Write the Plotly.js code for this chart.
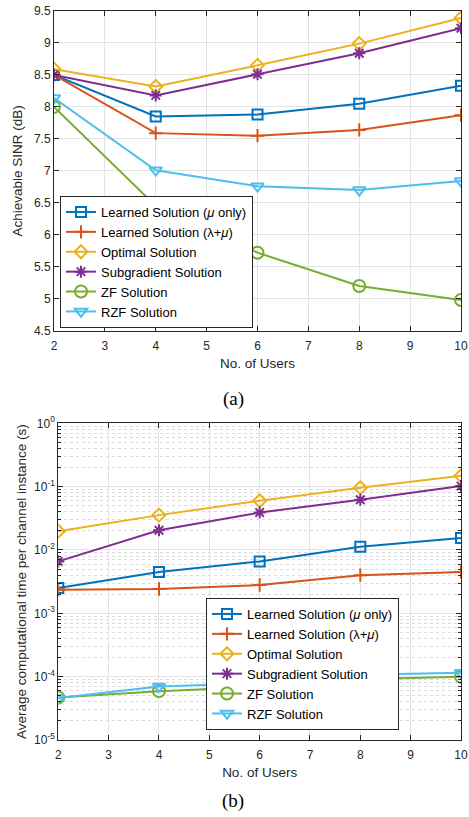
<!DOCTYPE html>
<html>
<head>
<meta charset="utf-8">
<script src="https://cdn.plot.ly/plotly-3.0.1.min.js"></script>
<style>html,body{margin:0;padding:0;background:#fff;}#plot{width:469px;height:817px;}</style>
</head>
<body>
<div id="plot"></div>
<script>
// ---- data ----
const users = [2, 4, 6, 8, 10];
const seriesNames = [
  'Learned Solution (<i>μ</i> only)',
  'Learned Solution (λ+<i>μ</i>)',
  'Optimal Solution',
  'Subgradient Solution',
  'ZF Solution',
  'RZF Solution'
];
// (a) Achievable SINR (dB)
const sinrLearnedMu = [8.50, 7.85, 7.88, 8.05, 8.33];
const sinrLearnedLM = [8.50, 7.59, 7.55, 7.64, 7.87];
const sinrOptimal   = [8.59, 8.32, 8.65, 8.99, 9.39];
const sinrSubgrad   = [8.50, 8.18, 8.51, 8.84, 9.23];
const sinrZF        = [8.00, 6.45, 5.72, 5.20, 4.98];
const sinrRZF       = [8.14, 7.01, 6.76, 6.70, 6.84];
// (b) Average computational time (s)
const timeLearnedMu = [0.0025, 0.0045, 0.0066, 0.0112, 0.0155];
const timeLearnedLM = [0.00235, 0.00242, 0.0028, 0.0040, 0.0045];
const timeOptimal   = [0.0198, 0.0355, 0.060, 0.096, 0.148];
const timeSubgrad   = [0.0066, 0.0205, 0.039, 0.062, 0.102];
const timeZF        = [4.7e-5, 5.9e-5, 6.9e-5, 9.1e-5, 1.0e-4];
const timeRZF       = [4.6e-5, 7.0e-5, 7.9e-5, 1.07e-4, 1.15e-4];
// tick labels
const xTicks = [2, 3, 4, 5, 6, 7, 8, 9, 10];
const sinrTicks = [4.5, 5, 5.5, 6, 6.5, 7, 7.5, 8, 8.5, 9, 9.5];
const timeTickVals = [1e-5, 1e-4, 1e-3, 1e-2, 1e-1, 1];
const timeTickText = ['10<sup>-5</sup>', '10<sup>-4</sup>', '10<sup>-3</sup>', '10<sup>-2</sup>', '10<sup>-1</sup>', '10<sup>0</sup>'];

// ---- styles ----
const colors = ['#0072BD', '#D95319', '#EDB120', '#7E2F8E', '#77AC30', '#4DBEEE'];
const symbols = ['square-open', 'cross-thin-open', 'diamond-open', 'asterisk-open', 'circle-open', 'triangle-down-open'];
const msizes = [10, 9.5, 10, 10, 12, 11];
const FONT = 'Liberation Sans, Arial, sans-serif';

const sinrData = [sinrLearnedMu, sinrLearnedLM, sinrOptimal, sinrSubgrad, sinrZF, sinrRZF];
const timeData = [timeLearnedMu, timeLearnedLM, timeOptimal, timeSubgrad, timeZF, timeRZF];

const traces = [];
sinrData.forEach((ys, i) => {
  traces.push({
    x: users, y: ys, type: 'scatter', mode: 'lines+markers', name: seriesNames[i],
    xaxis: 'x', yaxis: 'y', legend: 'legend',
    line: {color: colors[i], width: 2},
    marker: {symbol: symbols[i], size: msizes[i], color: colors[i], line: {color: colors[i], width: 2}}
  });
});
timeData.forEach((ys, i) => {
  traces.push({
    x: users, y: ys, type: 'scatter', mode: 'lines+markers', name: seriesNames[i],
    xaxis: 'x2', yaxis: 'y2', legend: 'legend2',
    line: {color: colors[i], width: 2},
    marker: {symbol: symbols[i], size: msizes[i], color: colors[i], line: {color: colors[i], width: 2}}
  });
});

const W = 469, H = 817;
const axisCommon = {
  showline: true, linecolor: '#262626', linewidth: 1, mirror: 'ticks',
  ticks: 'inside', ticklen: 5, tickcolor: '#262626', tickwidth: 1,
  showgrid: true, gridcolor: '#e3e3e3', gridwidth: 1, zeroline: false,
  tickfont: {family: FONT, size: 12, color: '#262626'}
};
const titleFont = {family: FONT, size: 13.5, color: '#262626'};
const capFont = {family: 'Liberation Serif, Times New Roman, serif', size: 19, color: '#000'};

const layout = {
  width: W, height: H,
  margin: {l: 0, r: 0, t: 0, b: 0},
  paper_bgcolor: '#fff', plot_bgcolor: '#fff',
  font: {family: FONT, color: '#262626'},
  xaxis: Object.assign({}, axisCommon, {
    domain: [54 / W, 461 / W], anchor: 'y', range: [2, 10],
    tickvals: xTicks, ticklabelstandoff: 4,
    title: {text: 'No. of Users', font: titleFont, standoff: 6}
  }),
  yaxis: Object.assign({}, axisCommon, {
    domain: [1 - 330.7 / H, 1 - 11 / H], anchor: 'x', range: [4.5, 9.5],
    tickvals: sinrTicks,
    title: {text: 'Achievable SINR (dB)', font: titleFont, standoff: 8}
  }),
  xaxis2: Object.assign({}, axisCommon, {
    domain: [58.3 / W, 461 / W], anchor: 'y2', range: [2, 10],
    tickvals: xTicks, ticklabelstandoff: 4,
    title: {text: 'No. of Users', font: titleFont, standoff: 6}
  }),
  yaxis2: Object.assign({}, axisCommon, {
    domain: [1 - 740 / H, 1 - 423.3 / H], anchor: 'x2', type: 'log', range: [-5, 0],
    tickvals: timeTickVals, ticktext: timeTickText,
    minor: {dtick: 'D1', ticks: 'inside', ticklen: 3, tickcolor: '#262626', showgrid: true, gridcolor: '#dadada', griddash: 'dot', gridwidth: 1},
    title: {text: 'Average computational time per channel instance (s)', font: titleFont, standoff: 4}
  }),
  showlegend: true,
  legend: {
    x: 60 / W, y: 1 - 196 / H, xanchor: 'left', yanchor: 'top',
    bgcolor: '#fff', bordercolor: '#262626', borderwidth: 1,
    font: {family: FONT, size: 13, color: '#000'}, itemwidth: 30, traceorder: 'normal'
  },
  legend2: {
    x: 206 / W, y: 1 - 598 / H, xanchor: 'left', yanchor: 'top',
    bgcolor: '#fff', bordercolor: '#262626', borderwidth: 1,
    font: {family: FONT, size: 13, color: '#000'}, itemwidth: 30, traceorder: 'normal'
  },
  annotations: [
    {text: '(a)', xref: 'paper', yref: 'paper', x: 233 / W, y: 1 - 399 / H, showarrow: false,
     xanchor: 'center', yanchor: 'middle', font: capFont},
    {text: '(b)', xref: 'paper', yref: 'paper', x: 233 / W, y: 1 - 801 / H, showarrow: false,
     xanchor: 'center', yanchor: 'middle', font: capFont}
  ]
};

Plotly.newPlot('plot', traces, layout, {staticPlot: true, displayModeBar: false});
</script>
</body>
</html>
